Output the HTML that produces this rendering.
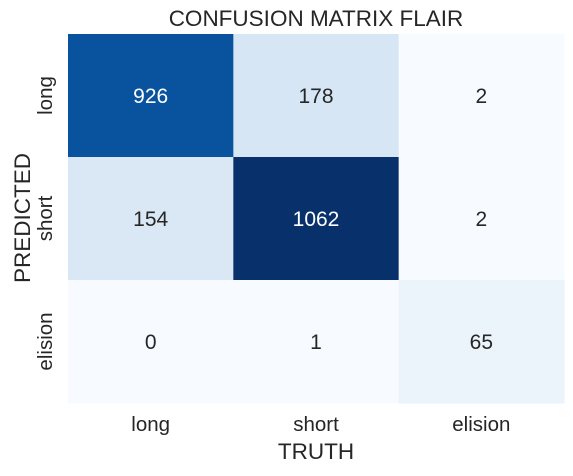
<!DOCTYPE html>
<html><head><meta charset="utf-8"><style>
body{margin:0;background:#fff;width:573px;height:471px;overflow:hidden;font-family:"Liberation Sans",Arial,sans-serif}
</style></head><body>
<svg id="chart" width="573" height="471" xmlns="http://www.w3.org/2000/svg" font-family="Liberation Sans, Arial, sans-serif">
<text x="316" y="26" font-size="22.5" fill="#262626" text-anchor="middle">CONFUSION MATRIX FLAIR</text>
<text x="316" y="459" font-size="22.5" fill="#262626" text-anchor="middle">TRUTH</text>
<text transform="translate(30,218) rotate(-90)" font-size="22.5" fill="#262626" text-anchor="middle">PREDICTED</text>
<g id="cells"></g>
</svg>
<script>
const xCategories = ["long","short","elision"];
const yCategories = ["long","short","elision"];
const row0 = [926,178,2];
const row1 = [154,1062,2];
const row2 = [0,1,65];
const matrix = [row0,row1,row2];

const X0=68,X1=564,Y0=34,Y1=403;
const cw=(X1-X0)/xCategories.length, ch=(Y1-Y0)/yCategories.length;
const xPos=i=>X0+i*cw, yPos=j=>Y0+j*ch;
const stops=["#f7fbff","#deebf7","#c6dbef","#9ecae1","#6baed6","#4292c6","#2171b5","#08519c","#08306b"];
function hex(h){return [1,3,5].map(k=>parseInt(h.substr(k,2),16));}
function blues(t){t=Math.max(0,Math.min(1,t));const p=t*8,i=Math.min(7,Math.floor(p)),f=p-i;const a=hex(stops[i]),b=hex(stops[i+1]);return "rgb("+a.map((v,k)=>Math.round(v+(b[k]-v)*f)).join(",")+")";}
const all=matrix.flat(), vmax=Math.max(...all), vmin=Math.min(...all);
const ns="http://www.w3.org/2000/svg", g=document.getElementById("cells"), svg=document.getElementById("chart");
matrix.forEach((row,j)=>row.forEach((v,i)=>{
  const t=(v-vmin)/(vmax-vmin);
  const r=document.createElementNS(ns,"rect");
  r.setAttribute("x",xPos(i));r.setAttribute("y",yPos(j));
  r.setAttribute("width",cw+0.5);r.setAttribute("height",ch+0.5);
  r.setAttribute("fill",blues(t));
  
  
  g.appendChild(r);
  const tx=document.createElementNS(ns,"text");
  tx.setAttribute("x",xPos(i)+cw/2);tx.setAttribute("y",yPos(j)+ch/2+7.5);
  tx.setAttribute("text-anchor","middle");tx.setAttribute("font-size","21");
  tx.setAttribute("fill",t>0.5?"#ffffff":"#262626");
  tx.textContent=v;
  
  
  g.appendChild(tx);
}));
xCategories.forEach((c,i)=>{
  const t=document.createElementNS(ns,"text");
  t.setAttribute("x",xPos(i)+cw/2);t.setAttribute("y",431);
  t.setAttribute("text-anchor","middle");t.setAttribute("font-size","20.5");t.setAttribute("fill","#262626");
  t.textContent=c;
  
  
  svg.appendChild(t);
});
yCategories.forEach((c,j)=>{
  const t=document.createElementNS(ns,"text");
  const cy=yPos(j)+ch/2;
  t.setAttribute("transform","translate(52,"+cy+") rotate(-90)");
  t.setAttribute("text-anchor","middle");t.setAttribute("font-size","20.5");t.setAttribute("fill","#262626");
  t.textContent=c;
  
  
  svg.appendChild(t);
});
</script>
</body></html>
